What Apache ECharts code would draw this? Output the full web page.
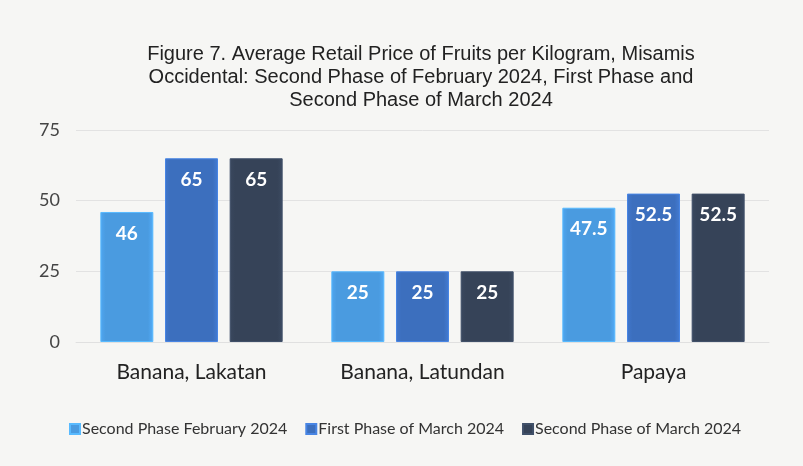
<!DOCTYPE html>
<html>
<head>
<meta charset="utf-8">
<script src="https://cdn.jsdelivr.net/npm/echarts@6/dist/echarts.min.js"></script>
<style>
  html, body { margin: 0; padding: 0; background: #f6f6f4; }
  #main { width: 803px; height: 466px; }
</style>
</head>
<body>
<div id="main"></div>
<script>
// data
const categories = ['Banana, Lakatan', 'Banana, Latundan', 'Papaya']
const febSecond = [46, 25, 47.5]
const marFirst = [65, 25, 52.5]
const marSecond = [65, 25, 52.5]
const seriesNames = ['Second Phase February 2024', 'First Phase of March 2024', 'Second Phase of March 2024']
const yTicks = [0, 25, 50, 75]

const colors = ['#4a9be0', '#3c6fbe', '#364358']

const chart = echarts.init(document.getElementById('main'))

function bevel(c) {
  return new echarts.graphic.LinearGradient(0, 0, 1, 0, [
    { offset: 0, color: echarts.color.lift(c, -0.08) },
    { offset: 0.1, color: c },
    { offset: 0.9, color: c },
    { offset: 1, color: echarts.color.lift(c, -0.12) }
  ])
}

function makeSeries(name, data, i) {
  return {
    name: name,
    type: 'bar',
    data: data,
    barWidth: 53,
    barGap: '22%',
    itemStyle: { color: bevel(colors[i]), borderColor: echarts.color.lift(colors[i], -0.2), borderWidth: 1 },
    label: {
      show: true,
      position: 'insideTop',
      distance: 12,
      color: '#ffffff',
      fontFamily: 'Lato, "Open Sans", sans-serif',
      fontWeight: 'bold',
      fontSize: 19
    }
  }
}

const option = {
  backgroundColor: '#f6f6f4',
  color: colors,
  title: {
    text: 'Figure 7. Average Retail Price of Fruits per Kilogram, Misamis\nOccidental: Second Phase of February 2024, First Phase and\nSecond Phase of March 2024',
    left: 416,
    top: 38,
    textAlign: 'center',
    textStyle: {
      fontFamily: '"Liberation Sans Narrow", "Arial Narrow", "Liberation Sans", sans-serif',
      fontWeight: 'normal',
      fontSize: 20,
      lineHeight: 23,
      color: '#222'
    }
  },
  legend: {
    left: 64,
    top: 416,
    itemWidth: 10,
    itemHeight: 10,
    itemGap: 18,
    icon: 'rect',
    textStyle: { fontFamily: 'Lato, "Open Sans", sans-serif', fontSize: 16, color: '#333', padding: [0, 0, 0, -3] },
    data: seriesNames
  },
  grid: { left: 76, right: 34, top: 130, bottom: 124 },
  xAxis: {
    type: 'category',
    data: categories,
    axisTick: { show: false },
    axisLine: { lineStyle: { color: '#e0e0e0' } },
    axisLabel: { fontFamily: 'Lato, "Open Sans", sans-serif', fontSize: 21, color: '#222', margin: 20 }
  },
  yAxis: {
    type: 'value',
    min: 0,
    max: yTicks[yTicks.length - 1],
    interval: 25,
    axisLabel: { fontFamily: 'Lato, "Open Sans", sans-serif', fontSize: 18, color: '#444', margin: 16 },
    splitLine: { lineStyle: { color: '#e2e2e2' } }
  },
  series: [
    makeSeries(seriesNames[0], febSecond, 0),
    makeSeries(seriesNames[1], marFirst, 1),
    makeSeries(seriesNames[2], marSecond, 2)
  ]
}

chart.setOption(option)
</script>
</body>
</html>
